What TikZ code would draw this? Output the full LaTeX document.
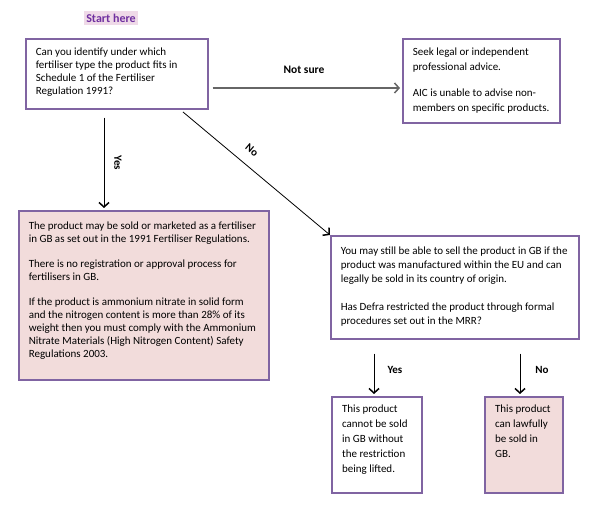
\documentclass[tikz,border=0pt]{standalone}
\usepackage{fontspec}
\setmainfont{Carlito}
\usetikzlibrary{arrows.meta}

\definecolor{boxpurple}{HTML}{8064A2}
\definecolor{boxpink}{HTML}{F2DCDB}
\definecolor{startpurple}{HTML}{7030A0}
\definecolor{startpink}{HTML}{EFDAE8}
\definecolor{linegray}{HTML}{666666}

\tikzset{
  box/.style={draw=boxpurple, line width=1.6pt, anchor=north west,
    inner xsep=10pt, inner ysep=9pt, align=left},
  arr/.style={line width=1pt, -{Straight Barb[length=4.5pt,width=10pt,line width=1.5pt]}},
  lbl/.style={font=\bfseries\fontsize{11}{13}\selectfont}
}

\begin{document}
\begin{tikzpicture}[x=1pt, y=-1pt]
    \useasboundingbox (0,0) rectangle (600,518);

    \coordinate (yesx) at (104,0);
    \coordinate (nsy) at (0,88);
    \coordinate (noA) at (183,112);
    \coordinate (y2x) at (374,0);
    \coordinate (n2x) at (520,0);

    \node [fill=startpink, text=startpurple, inner sep=2.5pt,
      font=\bfseries\fontsize{12}{14}\selectfont] (start) at (111,18) {Start here};

    \node [box, font=\fontsize{11}{13}\selectfont] (q1) at (25,38) {\parbox[t][52pt][t]{162pt}{%
      Can you identify under which\\
      fertiliser type the product fits in\\
      Schedule 1 of the Fertiliser\\
      Regulation 1991?}};

    \node [box, font=\fontsize{11}{15}\selectfont] (advice) at (402,38) {\parbox[t][66pt][t]{137pt}{%
      Seek legal or independent\\
      professional advice.\\[11pt]
      AIC is unable to advise non-\\
      members on specific products.}};

    \node [box, inner ysep=11pt, fill=boxpink, font=\fontsize{11}{13}\selectfont] (sold) at (18,210) {\parbox[t][147pt][t]{230pt}{%
      The product may be sold or marketed as a fertiliser\\
      in GB as set out in the 1991 Fertiliser Regulations.\\[12pt]
      There is no registration or approval process for\\
      fertilisers in GB.\\[12pt]
      If the product is ammonium nitrate in solid form\\
      and the nitrogen content is more than 28\% of its\\
      weight then you must comply with the Ammonium\\
      Nitrate Materials (High Nitrogen Content) Safety\\
      Regulations 2003.}};

    \node [box, inner ysep=11pt, font=\fontsize{11}{14}\selectfont] (mrr) at (330,235) {\parbox[t][81pt][t]{228pt}{%
      You may still be able to sell the product in GB if the\\
      product was manufactured within the EU and can\\
      legally be sold in its country of origin.\\[14pt]
      Has Defra restricted the product through formal\\
      procedures set out in the MRR?}};

    \node [box, inner ysep=8pt, line width=2.2pt, font=\fontsize{11}{15}\selectfont] (cannot) at (331,396) {\parbox[t][80pt][t]{70pt}{%
      This product\\
      cannot be sold\\
      in GB without\\
      the restriction\\
      being lifted.}};

    \node [box, inner ysep=8pt, line width=2.2pt, fill=boxpink, font=\fontsize{11}{15}\selectfont] (lawful) at (484,396) {\parbox[t][80pt][t]{58pt}{%
      This product\\
      can lawfully\\
      be sold in\\
      GB.}};

    \draw [arr, draw=linegray, line width=1.5pt, shorten <=4pt, shorten >=2pt] (q1.east |- nsy) -- (advice.west |- nsy);
    \draw [arr, shorten <=8pt, shorten >=2pt] (q1.south -| yesx) -- (sold.north -| yesx);
    \draw [arr, line width=0.8pt] (noA) -- (mrr.north west);
    \draw [arr, shorten <=14pt, shorten >=2pt] (mrr.south -| y2x) -- (cannot.north -| y2x);
    \draw [arr, shorten <=14pt, shorten >=2pt] (mrr.south -| n2x) -- (lawful.north -| n2x);

    \node [lbl, font=\bfseries\fontsize{11.5}{13}\selectfont] (nsl) at (304,70) {Not sure};
    \node [lbl, rotate=-90] (yesl) at (118,163) {Yes};
    \node [lbl, rotate=-40] (nol) at (252,150) {No};
    \node [lbl] (yes2l) at (395,370) {Yes};
    \node [lbl] (no2l) at (542,370) {No};

  \end{tikzpicture}
\end{document}
